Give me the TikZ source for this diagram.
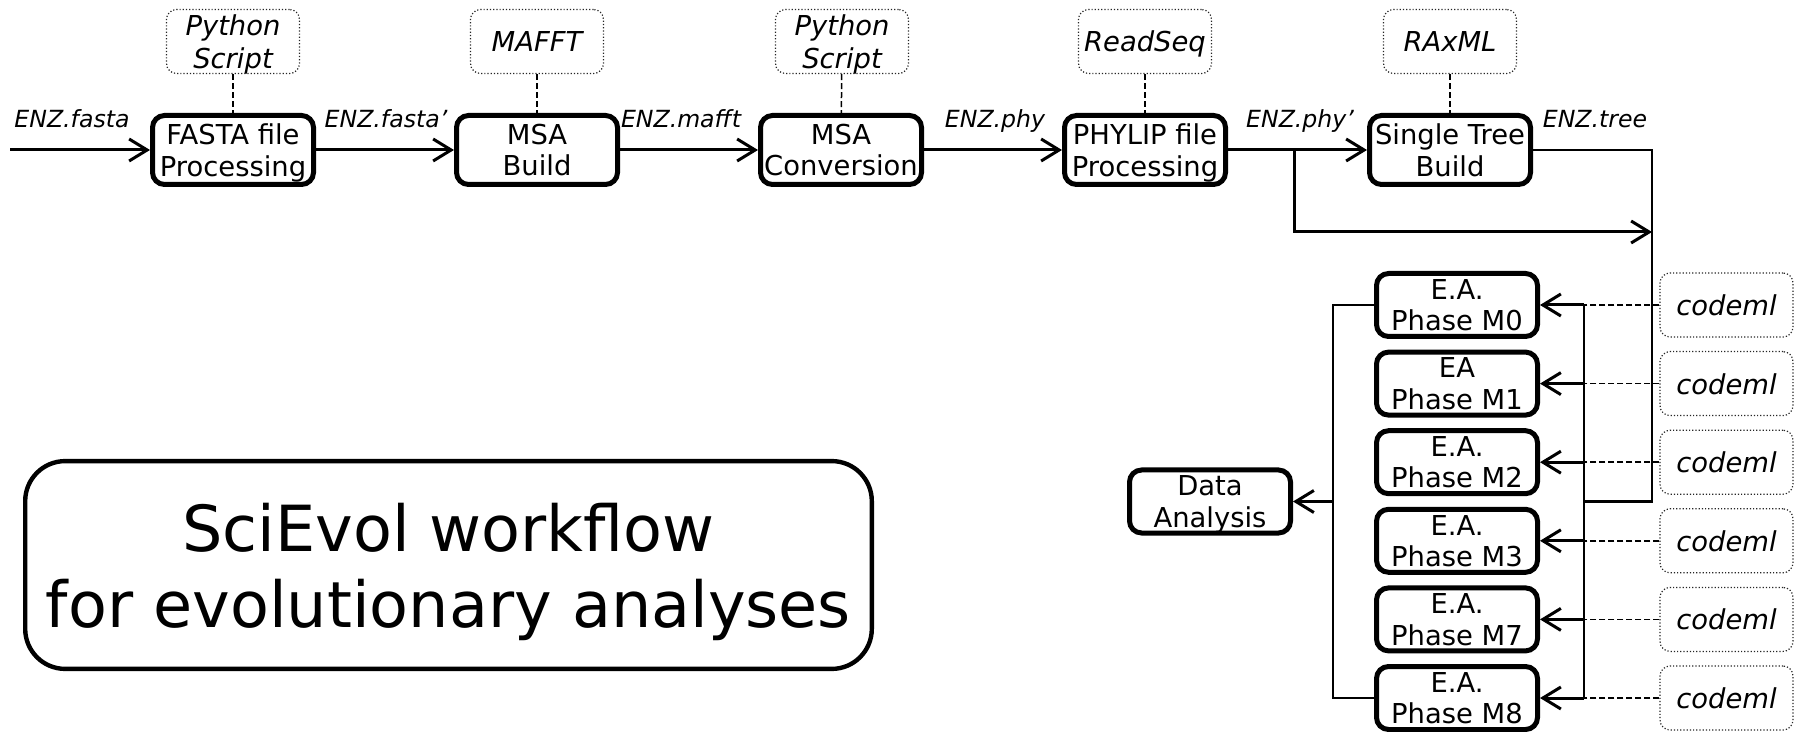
\documentclass[tikz,border=0pt]{standalone}
\usepackage{fontspec}
\setmainfont{DejaVu Sans}
\usetikzlibrary{arrows.meta}

\tikzset{
  proc/.style={draw, line width=2.5pt, rounded corners=6pt, align=center, inner sep=0pt, text depth=0pt,
    minimum width=80.5pt, minimum height=34.5pt, font=\fontsize{13.7}{15.75}\selectfont},
  phase/.style={proc, minimum height=31.5pt},
  tool/.style={draw=black!85, densely dotted, line width=0.6pt, rounded corners=5pt, align=center,
    inner sep=0pt, text depth=0pt, minimum width=66.5pt, minimum height=32pt,
    font=\fontsize{13.7}{16.5}\selectfont\itshape},
  file/.style={inner sep=0pt, anchor=base, font=\fontsize{11.8}{14}\selectfont\itshape},
  flow/.style={line width=1.5pt, -{Straight Barb[length=9pt,width=11pt]}},
  bus/.style={line width=1.3pt},
  uses/.style={line width=0.75pt, dash pattern=on 3pt off 1.5pt},
  headline/.style={draw, line width=2.2pt, rounded corners=20pt, align=center, inner sep=0pt, text depth=0pt,
    minimum width=423.3pt, minimum height=103.9pt, font=\fontsize{31.8}{38}\selectfont}
}

\begin{document}
\begin{tikzpicture}[x=0.5pt,y=-0.5pt]
\useasboundingbox (0,0) rectangle (1799,732);

\node[proc] (fasta) at (233,150) {FASTA file\\Processing};
\node[proc] (msabuild) at (537,150) {MSA\\Build};
\node[proc] (msaconv) at (841,150) {MSA\\Conversion};
\node[proc] (phylip) at (1145,150) {PHYLIP file\\Processing};
\node[proc] (singletree) at (1450,150) {Single Tree\\Build};

\node[tool] (pyone) at (233,41.5) {Python\\Script};
\node[tool] (mafft) at (537,41.5) {MAFFT};
\node[tool] (pytwo) at (842,41.5) {Python\\Script};
\node[tool] (readseq) at (1145,41.5) {ReadSeq};
\node[tool] (raxml) at (1450,41.5) {RAxML};

\draw[uses] (pyone) -- (fasta);
\draw[uses] (mafft) -- (msabuild);
\draw[uses] (pytwo) -- (msaconv);
\draw[uses] (readseq) -- (phylip);
\draw[uses] (raxml) -- (singletree);

\coordinate (input) at (10,150);
\draw[flow] (input) -- (fasta);
\draw[flow] (fasta) -- (msabuild);
\draw[flow] (msabuild) -- (msaconv);
\draw[flow] (msaconv) -- (phylip);
\draw[flow] (phylip) -- (singletree);

\node[file] (lfasta) at (72,127.5) {ENZ.fasta};
\node[file] (lfastap) at (386,127.5) {ENZ.fasta’};
\node[file] (lmafft) at (681,127.5) {ENZ.mafft};
\node[file] (lphy) at (995,127.5) {ENZ.phy};
\node[file] (lphyp) at (1300,127.5) {ENZ.phy’};
\node[file] (ltree) at (1595,127.5) {ENZ.tree};

\node[phase] (mzero) at (1457,305) {E.A.\\Phase M0};
\node[phase] (mone) at (1457,383.6) {EA\\Phase M1};
\node[phase] (mtwo) at (1457,462.2) {E.A.\\Phase M2};
\node[phase] (mthree) at (1457,540.8) {E.A.\\Phase M3};
\node[phase] (mseven) at (1457,619.4) {E.A.\\Phase M7};
\node[phase] (meight) at (1457,698) {E.A.\\Phase M8};

\node[tool] (czero) at (1726.5,305) {codeml};
\node[tool] (cone) at (1726.5,383.6) {codeml};
\node[tool] (ctwo) at (1726.5,462.2) {codeml};
\node[tool] (cthree) at (1726.5,540.8) {codeml};
\node[tool] (cseven) at (1726.5,619.4) {codeml};
\node[tool] (ceight) at (1726.5,698) {codeml};

\node[phase] (analysis) at (1210,501.5) {Data\\Analysis};

\coordinate (branch) at (1294,150);
\coordinate (fork) at (1294,232);
\coordinate (feed) at (1652,0);
\coordinate (rbus) at (1584,0);
\coordinate (lbus) at (1333,0);

\draw[flow] (branch) -- (fork) -- (fork -| feed);
\draw[bus] (singletree.east) -- (singletree.east -| feed) -- (analysis.east -| feed) -- (analysis.east -| rbus);
\draw[bus] (mzero.east -| rbus) -- (meight.east -| rbus);

\draw[flow] (mzero.east -| rbus) -- (mzero.east);
\draw[flow] (mone.east -| rbus) -- (mone.east);
\draw[flow] (mtwo.east -| rbus) -- (mtwo.east);
\draw[flow] (mthree.east -| rbus) -- (mthree.east);
\draw[flow] (mseven.east -| rbus) -- (mseven.east);
\draw[flow] (meight.east -| rbus) -- (meight.east);

\draw[uses] (czero) -- (mzero.east -| rbus);
\draw[uses] (cone) -- (mone.east -| rbus);
\draw[uses] (ctwo) -- (mtwo.east -| rbus);
\draw[uses] (cthree) -- (mthree.east -| rbus);
\draw[uses] (cseven) -- (mseven.east -| rbus);
\draw[uses] (ceight) -- (meight.east -| rbus);

\draw[bus] (mzero.west) -- (mzero.west -| lbus) -- (meight.west -| lbus) -- (meight.west);
\draw[flow] (analysis.east -| lbus) -- (analysis.east);

\node[headline] (title) at (448.5,565) {SciEvol workflow\\for evolutionary analyses};
\end{tikzpicture}
\end{document}
